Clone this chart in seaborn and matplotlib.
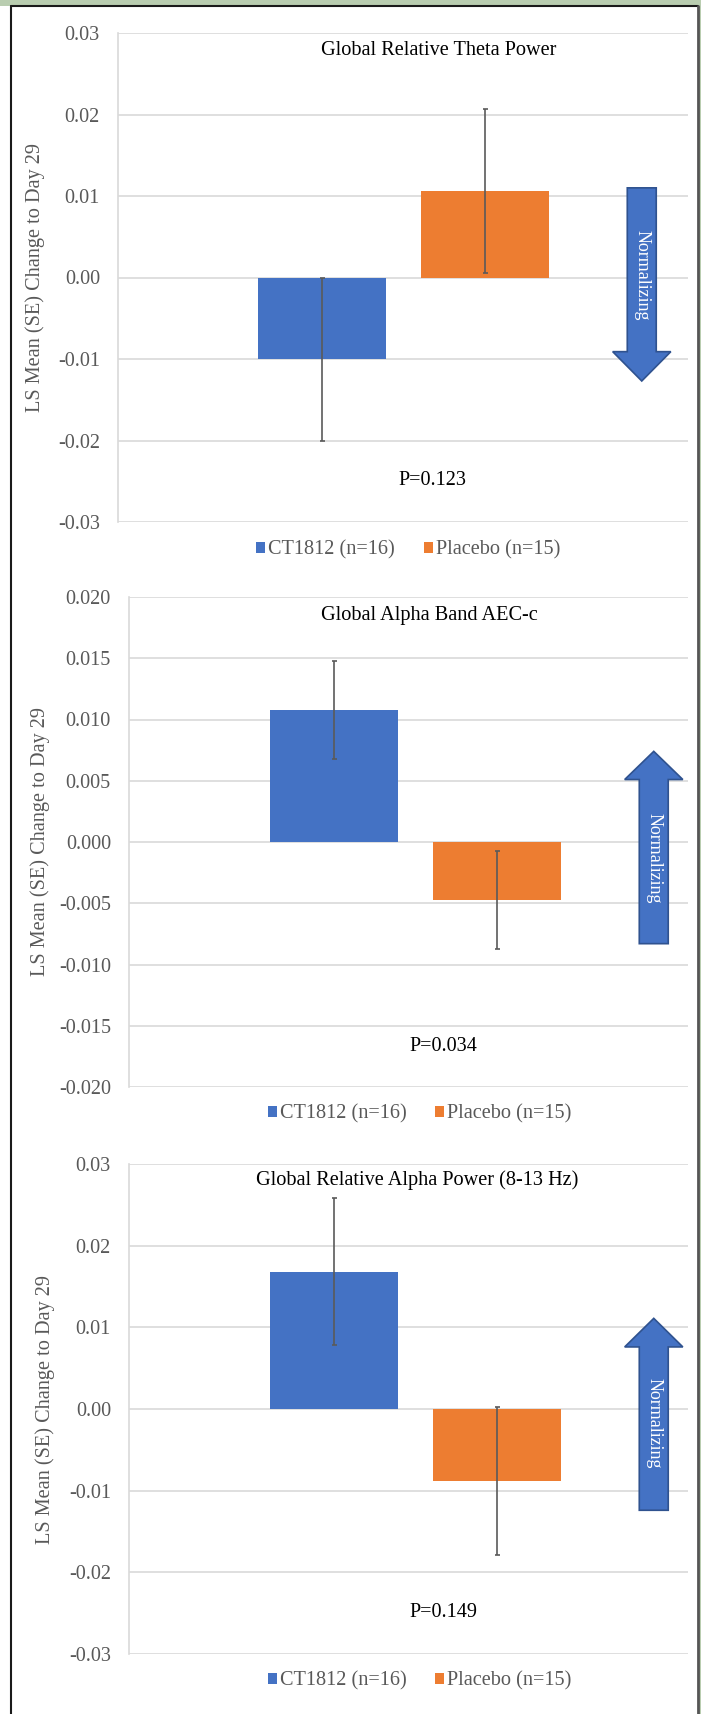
import numpy as np
import pandas as pd
import matplotlib
matplotlib.use("Agg")
import matplotlib.pyplot as plt
from matplotlib.patches import Polygon, Rectangle
from matplotlib.lines import Line2D
from matplotlib.ticker import FuncFormatter, MultipleLocator
import seaborn as sns

# ---------------- data ----------------
groups = ["CT1812 (n=16)", "Placebo (n=15)"]
colors = ["#4472C4", "#ED7D31"]

titles = ["Global Relative Theta Power", "Global Alpha Band AEC-c",
          "Global Relative Alpha Power (8-13 Hz)"]
p_values = ["P=0.123", "P=0.034", "P=0.149"]

theta_mean = [-0.0100, 0.0106]
theta_se = [0.0100, 0.0101]
aec_mean = [0.0108, -0.0047]
aec_se = [0.0040, 0.0040]
alpha_mean = [0.0168, -0.0088]
alpha_se = [0.0090, 0.0091]

means = [theta_mean, aec_mean, alpha_mean]
ses = [theta_se, aec_se, alpha_se]

y_limits = [(-0.03, 0.03), (-0.02, 0.02), (-0.03, 0.03)]
y_steps = [0.01, 0.005, 0.01]
y_decimals = [2, 3, 2]

# "Normalizing" arrow: (tail, head base, tip) in data units
arrows = [(0.0110, -0.0091, -0.0127),
          (-0.0083, 0.0051, 0.0074),
          (-0.0124, 0.0076, 0.0111)]
arrow_text_y = [0.0003, -0.0013, -0.0018]

# ---------------- style ----------------
sns.set_style("white")
plt.rcParams["font.family"] = ["Liberation Serif", "DejaVu Serif"]

W, H = 701, 1714
fig = plt.figure(figsize=(W / 100, H / 100), dpi=100)
fig.patch.set_facecolor("white")

# green header band and frame
fig.patches.append(Rectangle((0, 1 - 6 / H), 1, 6 / H, transform=fig.transFigure,
                             facecolor="#b9cdb0", edgecolor="none", zorder=0))
fig.patches.append(Rectangle((699 / W, 0), 2 / W, 1, transform=fig.transFigure,
                             facecolor="#b9cdb0", edgecolor="none", zorder=0))
fig.lines.append(Line2D([11 / W, 11 / W], [0, 1 - 6 / H], transform=fig.transFigure,
                        color="#1a1a1a", lw=1.5))
fig.lines.append(Line2D([11 / W, 697.5 / W], [1 - 6 / H, 1 - 6 / H], transform=fig.transFigure,
                        color="#1a1a1a", lw=1.5))
fig.lines.append(Line2D([697.5 / W, 697.5 / W], [0, 1 - 6 / H], transform=fig.transFigure,
                        color="#555555", lw=2))

# axes boxes in pixels: left, right, top, bottom
boxes = [(118, 688, 33, 522), (129, 688, 597, 1087), (129, 688, 1164, 1654)]
bar_center_px = [403.5, 415.5, 415.5]
px_per_unit = 570.0
title_pos = [(0.563, 0.965), (0.537, 0.963), (0.515, 0.968)]
p_pos = [(0.551, 0.084), (0.563, 0.083), (0.563, 0.084)]
legend_pos = [(0.509, -0.057), (0.52, -0.055), (0.52, -0.055)]
ylabel_center_px = [35, 40, 45]

grey_text = "#595959"
fs = 14.6

for i in range(3):
    L, R, T, B = boxes[i]
    ax = fig.add_axes([L / W, 1 - B / H, (R - L) / W, (B - T) / H])
    df = pd.DataFrame({"measure": [titles[i]] * 2, "group": groups, "value": means[i]})
    sns.barplot(data=df, x="measure", y="value", hue="group", hue_order=groups,
                palette=colors, width=0.572, gap=0.215, errorbar=None,
                saturation=1, linewidth=0, ax=ax, zorder=3)

    # error bars at the bar centres
    for cont, m, s in zip(ax.containers, means[i], ses[i]):
        bar = cont.patches[0]
        xc = bar.get_x() + bar.get_width() / 2
        ax.errorbar([xc], [m], yerr=[s], fmt="none", ecolor="#5a5a5a",
                    elinewidth=1.2, capsize=1.8, capthick=1.2, zorder=4)

    c = bar_center_px[i]
    ax.set_xlim(-(c - L) / px_per_unit, (R - c) / px_per_unit)
    ax.set_ylim(*y_limits[i])
    ax.yaxis.set_major_locator(MultipleLocator(y_steps[i]))
    d = y_decimals[i]
    ax.yaxis.set_major_formatter(FuncFormatter(lambda v, pos, d=d: f"{round(v, d) + 0.0:.{d}f}"))
    ax.set_xticks([])
    ax.set_xlabel("")
    ax.grid(axis="y", color="#d9d9d9", lw=1.2, zorder=0)
    ax.set_axisbelow(True)
    for sp in ["top", "right", "bottom"]:
        ax.spines[sp].set_visible(False)
    ax.spines["left"].set_color("#d9d9d9")
    ax.spines["left"].set_linewidth(1.2)
    ax.tick_params(axis="y", length=0, pad=13, labelsize=fs, labelcolor=grey_text)
    ax.set_ylabel("LS Mean (SE) Change to Day 29", fontsize=fs, color=grey_text,
                  va="center")
    ax.yaxis.set_label_coords((ylabel_center_px[i] - L) / (R - L), 0.5)

    ax.text(*title_pos[i], titles[i], transform=ax.transAxes, ha="center", va="center",
            fontsize=fs, color="black")
    ax.text(*p_pos[i], p_values[i], transform=ax.transAxes, ha="center", va="center",
            fontsize=fs, color="black")

    # Normalizing arrow
    tail, base, tip = arrows[i]
    xa, hs, hh = 0.418, 0.0254, 0.051
    verts = [(xa - hs, tail), (xa + hs, tail), (xa + hs, base), (xa + hh, base),
             (xa, tip), (xa - hh, base), (xa - hs, base)]
    ax.add_patch(Polygon(verts, closed=True, facecolor="#4472C4", edgecolor="#2F528F",
                         lw=1.2, zorder=5))
    ax.text(xa, arrow_text_y[i], "Normalizing", rotation=270, ha="center", va="center",
            color="white", fontsize=13, zorder=6)

    leg = ax.get_legend()
    handles = leg.legend_handles
    leg.remove()
    ax.legend(handles, groups, loc="center", bbox_to_anchor=legend_pos[i], ncol=2,
              frameon=False, fontsize=fs, labelcolor=grey_text, handlelength=0.45,
              handleheight=0.45, handletextpad=0.15, columnspacing=1.4,
              borderaxespad=0)

fig.savefig("out.png", dpi=100, facecolor="white")
